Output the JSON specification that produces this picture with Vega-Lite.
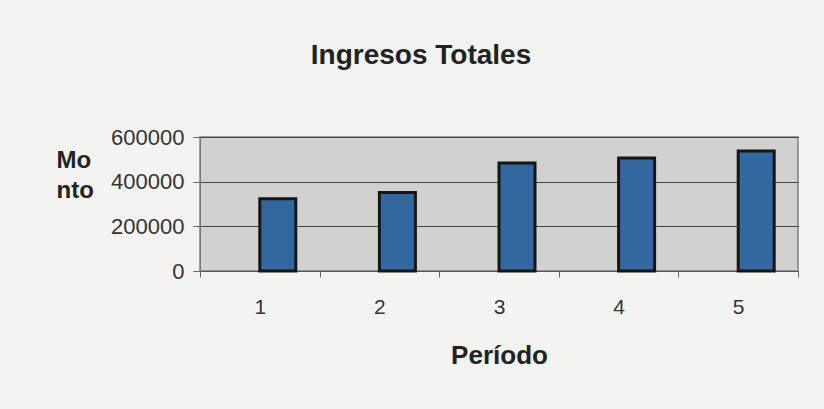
{
  "$schema": "https://vega.github.io/schema/vega-lite/v6.json",
  "width": 598,
  "height": 134,
  "autosize": "none",
  "padding": {"left": 200, "top": 137, "right": 26, "bottom": 138},
  "background": "#f3f3f1",
  "title": {
    "text": "Ingresos Totales",
    "font": "Liberation Sans",
    "fontSize": 28,
    "fontWeight": "bold",
    "color": "#222222",
    "anchor": "middle",
    "dx": -78,
    "offset": 56
  },
  "data": {
    "values": [
      {"Periodo": "1", "Serie": "Ingresos", "Monto": 324000},
      {"Periodo": "2", "Serie": "Ingresos", "Monto": 351000},
      {"Periodo": "3", "Serie": "Ingresos", "Monto": 484000},
      {"Periodo": "4", "Serie": "Ingresos", "Monto": 506000},
      {"Periodo": "5", "Serie": "Ingresos", "Monto": 537000}
    ]
  },
  "mark": {"type": "bar", "color": "#32679f", "stroke": "#161616", "strokeWidth": 3},
  "encoding": {
    "x": {
      "field": "Periodo",
      "type": "ordinal",
      "scale": {"paddingInner": 0, "paddingOuter": 0},
      "axis": {
        "title": "Período",
        "titleFont": "Liberation Sans",
        "titleFontSize": 26,
        "titleFontWeight": "bold",
        "titleColor": "#222222",
        "titleBaseline": "alphabetic",
        "titleY": 92,
        "labelAngle": 0,
        "labelFont": "Liberation Sans",
        "labelFontSize": 21,
        "labelColor": "#333333",
        "labelPadding": 19,
        "tickBand": "extent",
        "tickSize": 6,
        "tickColor": "#666666",
        "domainColor": "#555555",
        "grid": false
      }
    },
    "xOffset": {
      "field": "Serie",
      "type": "nominal",
      "scale": {"domain": ["", "Ingresos"], "paddingInner": 0, "paddingOuter": 0.661}
    },
    "y": {
      "field": "Monto",
      "type": "quantitative",
      "scale": {"domain": [0, 600000], "nice": false},
      "axis": {
        "title": ["Mo", "nto"],
        "titleFont": "Liberation Sans",
        "titleFontSize": 24,
        "titleFontWeight": "bold",
        "titleColor": "#222222",
        "titleAngle": 0,
        "titleAlign": "left",
        "titleBaseline": "alphabetic",
        "titleX": -144,
        "titleY": 30,
        "titleLineHeight": 30,
        "values": [0, 200000, 400000, 600000],
        "format": "d",
        "labelFont": "Liberation Sans",
        "labelFontSize": 22,
        "labelColor": "#333333",
        "labelPadding": 9,
        "tickSize": 7,
        "tickColor": "#666666",
        "domainColor": "#777777",
        "grid": true,
        "gridColor": "#444444",
        "gridWidth": 1
      }
    }
  },
  "config": {
    "view": {"fill": "#d1d1cf", "stroke": "#808080", "strokeWidth": 1.5}
  }
}
